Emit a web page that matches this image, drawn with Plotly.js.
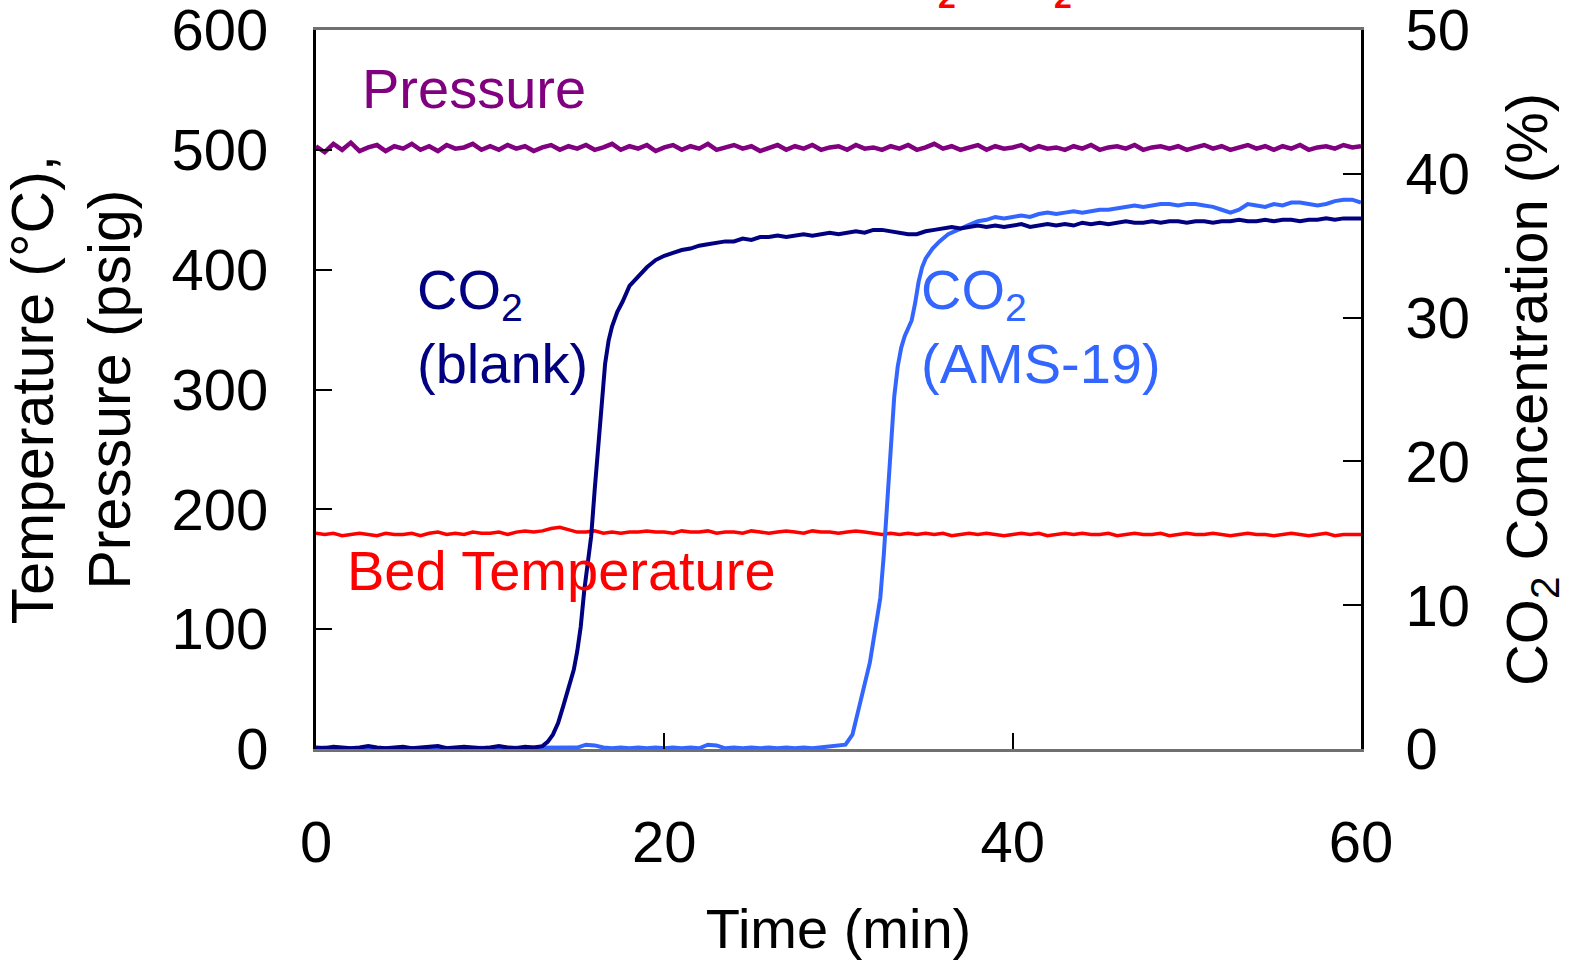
<!DOCTYPE html>
<html>
<head>
<meta charset="utf-8">
<script src="https://cdn.plot.ly/plotly-3.0.1.min.js"></script>
<style>html,body{margin:0;padding:0;background:#fff;}#chart{width:1570px;height:960px;}</style>
</head>
<body>
<div id="chart"></div>
<script>
// ---- Data ----
const timeFlat = [0,0.5,1,1.5,2,2.5,3,3.5,4,4.5,5,5.5,6,6.5,7,7.5,8,8.5,9,9.5,
  10,10.5,11,11.5,12,12.5,13,13.5,14,14.5,15,15.5,16,16.5,17,17.5,18,18.5,19,19.5,
  20,20.5,21,21.5,22,22.5,23,23.5,24,24.5,25,25.5,26,26.5,27,27.5,28,28.5,29,29.5,
  30,30.5,31,31.5,32,32.5,33,33.5,34,34.5,35,35.5,36,36.5,37,37.5,38,38.5,39,39.5,
  40,40.5,41,41.5,42,42.5,43,43.5,44,44.5,45,45.5,46,46.5,47,47.5,48,48.5,49,49.5,
  50,50.5,51,51.5,52,52.5,53,53.5,54,54.5,55,55.5,56,56.5,57,57.5,58,58.5,59,59.5,60];

const pressure = [503,498,505,500,506,499,502,504,499,503,
  501,505,500,503,499,504,501,502,505,500,
  503,500,504,501,503,499,502,504,500,503,
  501,504,500,502,505,500,503,501,504,499,
  502,504,500,503,501,505,500,502,504,501,
  503,499,502,504,500,503,501,504,500,502,
  503,500,504,501,502,500,503,501,504,500,
  502,505,501,503,500,502,504,500,503,501,
  502,504,500,503,501,502,500,503,501,504,
  500,502,503,501,504,500,502,503,501,503,
  500,502,504,501,503,500,502,504,501,503,
  500,503,501,504,500,502,503,501,504,502,503];

const bedTemp = [180,179,180,178,179,180,179,178,180,179,
  179,180,178,180,181,179,180,179,181,180,
  180,181,179,181,182,181,182,184,185,183,
  181,181,182,180,181,180,181,181,182,181,
  181,180,182,181,181,182,180,181,181,180,
  182,181,180,181,182,181,180,182,181,181,
  180,181,182,181,180,179,180,179,180,179,
  180,179,180,178,179,180,179,180,179,178,
  179,180,179,180,178,179,180,179,180,179,
  179,180,178,179,180,179,179,180,178,179,
  180,179,179,180,179,178,179,180,179,179,
  178,179,180,179,178,179,180,178,179,179,179];

const timeBlank = [0,0.5,1,1.5,2,2.5,3,3.5,4,4.5,5,5.5,6,6.5,7,7.5,8,8.5,9,9.5,10,10.5,11,11.5,12,12.5,
  13,13.3,13.6,13.9,14.2,14.5,14.8,15,15.2,15.4,15.6,15.8,16,16.2,16.4,16.6,16.8,17,17.3,17.6,18,18.5,19,19.5,
  20,20.5,21,21.5,22,22.5,23,23.5,24,24.5,25,25.5,26,26.5,27,27.5,28,28.5,29,29.5,
  30,30.5,31,31.5,32,32.5,33,33.5,34,34.5,35,35.5,36,36.5,37,37.5,38,38.5,39,39.5,
  40,40.5,41,41.5,42,42.5,43,43.5,44,44.5,45,45.5,46,46.5,47,47.5,48,48.5,49,49.5,
  50,50.5,51,51.5,52,52.5,53,53.5,54,54.5,55,55.5,56,56.5,57,57.5,58,58.5,59,59.5,60];
const co2Blank = [0.1,0.05,0.15,0.1,0.05,0.1,0.2,0.1,0.05,0.1,0.15,0.05,0.1,0.1,0.2,0.05,0.1,0.15,0.1,0.05,0.1,0.2,0.1,0.05,0.15,0.1,
  0.2,0.5,1.0,1.8,3.0,4.2,5.5,6.8,8.5,11.0,13.0,14.8,18.0,21.0,24.0,26.8,28.4,29.4,30.4,31.1,32.2,32.9,33.5,34.0,
  34.3,34.5,34.7,34.8,35.0,35.1,35.2,35.3,35.3,35.5,35.4,35.6,35.6,35.7,35.6,35.7,35.8,35.7,35.8,35.9,
  35.8,35.9,36.0,35.9,36.1,36.1,36.0,35.9,35.8,35.8,36.0,36.1,36.2,36.3,36.2,36.3,36.4,36.3,36.4,36.3,
  36.4,36.5,36.3,36.4,36.5,36.4,36.5,36.4,36.6,36.5,36.6,36.5,36.6,36.7,36.6,36.6,36.7,36.6,36.7,36.7,
  36.6,36.7,36.7,36.6,36.7,36.7,36.8,36.7,36.7,36.8,36.7,36.8,36.8,36.7,36.8,36.8,36.9,36.8,36.9,36.9,36.9];

const timeAms = [0,0.5,1,1.5,2,2.5,3,3.5,4,4.5,5,5.5,6,6.5,7,7.5,8,8.5,9,9.5,
  10,10.5,11,11.5,12,12.5,13,13.5,14,14.5,15,15.5,16,16.5,17,17.5,18,18.5,19,19.5,
  20,20.5,21,21.5,22,22.5,23,23.5,24,24.5,25,25.5,26,26.5,27,27.5,28,28.5,29,29.5,30,
  30.4,30.8,31.2,31.5,31.8,32,32.2,32.4,32.6,32.8,33,33.2,33.4,33.6,33.8,34,34.2,34.4,34.6,34.8,35,35.4,35.8,36.3,36.8,37.4,
  38,38.5,39,39.5,40,40.5,41,41.5,42,42.5,43,43.5,44,44.5,45,45.5,46,46.5,47,47.5,48,48.5,49,49.5,
  50,50.5,51,51.5,52,52.5,53,53.5,54,54.5,55,55.5,56,56.5,57,57.5,58,58.5,59,59.5,60];
const co2Ams = [0.05,0.1,0.05,0.05,0.1,0.05,0.1,0.05,0.05,0.1,
  0.05,0.1,0.05,0.1,0.05,0.05,0.1,0.05,0.1,0.05,
  0.05,0.1,0.05,0.1,0.05,0.1,0.05,0.05,0.1,0.05,
  0.1,0.3,0.25,0.1,0.05,0.1,0.05,0.1,0.05,0.1,
  0.05,0.1,0.05,0.1,0.05,0.3,0.25,0.05,0.1,0.05,
  0.1,0.05,0.1,0.05,0.1,0.05,0.1,0.05,0.1,0.15,0.2,
  0.3,1.0,3.0,4.5,6.0,7.5,9.0,10.5,13.5,17.0,21.0,24.5,26.6,27.9,28.7,29.3,29.8,31.0,32.5,33.5,34.1,34.8,35.3,35.8,36.1,36.4,
  36.7,36.8,37.0,36.9,37.0,37.1,37.0,37.2,37.3,37.2,37.3,37.4,37.3,37.4,37.5,37.5,37.6,37.7,37.8,37.7,37.8,37.9,37.9,37.8,
  37.9,37.9,37.8,37.7,37.5,37.3,37.5,37.9,37.8,37.7,37.9,37.8,38.0,38.0,37.9,37.8,37.9,38.1,38.2,38.2,38.0];

const xTicks = [0,20,40,60];
const yTicks = [0,100,200,300,400,500,600];
const y2Ticks = [0,10,20,30,40,50];

// ---- Styling ----
const FONT = 'Liberation Sans, Arial, Helvetica, sans-serif';
const FS = 56;
const TICKFS = 58;

const traces = [
  {x: timeFlat, y: bedTemp, type: 'scatter', mode: 'lines', name: 'Bed Temperature',
   line: {color: '#FF0000', width: 3.5}, yaxis: 'y'},
  {x: timeFlat, y: pressure, type: 'scatter', mode: 'lines', name: 'Pressure',
   line: {color: '#800080', width: 4.5}, yaxis: 'y'},
  {x: timeAms, y: co2Ams, type: 'scatter', mode: 'lines', name: 'CO2 (AMS-19)',
   line: {color: '#3366FF', width: 4}, yaxis: 'y2'},
  {x: timeBlank, y: co2Blank, type: 'scatter', mode: 'lines', name: 'CO2 (blank)',
   line: {color: '#000080', width: 4}, yaxis: 'y2'}
];

function px2x(p){ return (p-316)/1045; }
function px2y(p){ return (749-p)/719; }

const annotations = [
  {text: 'Pressure', font: {color: '#800080', size: FS, family: FONT}, x: px2x(360), y: px2y(88), xanchor: 'left', yanchor: 'middle'},
  {text: 'Bed Temperature', font: {color: '#FF0000', size: FS, family: FONT}, x: px2x(345), y: px2y(570), xanchor: 'left', yanchor: 'middle'},
  {text: 'CO<sub>2</sub>', font: {color: '#000080', size: FS, family: FONT}, x: px2x(415), y: px2y(293), xanchor: 'left', yanchor: 'middle'},
  {text: '(blank)', font: {color: '#000080', size: FS, family: FONT}, x: px2x(415), y: px2y(363), xanchor: 'left', yanchor: 'middle'},
  {text: 'CO<sub>2</sub>', font: {color: '#3366FF', size: FS, family: FONT}, x: px2x(919), y: px2y(293), xanchor: 'left', yanchor: 'middle'},
  {text: '(AMS-19)', font: {color: '#3366FF', size: FS, family: FONT}, x: px2x(919), y: px2y(363), xanchor: 'left', yanchor: 'middle'},
  {text: '<b>2</b>', font: {color: '#FF0000', size: 32, family: FONT}, x: px2x(947), y: 1 + 13/719, xanchor: 'center', yanchor: 'bottom'},
  {text: '<b>2</b>', font: {color: '#FF0000', size: 32, family: FONT}, x: px2x(1063), y: 1 + 13/719, xanchor: 'center', yanchor: 'bottom'}
].map(a => Object.assign({xref: 'paper', yref: 'paper', showarrow: false}, a));

const layout = {
  width: 1570, height: 960,
  margin: {l: 316, r: 209, t: 30, b: 211, pad: 0},
  paper_bgcolor: '#ffffff', plot_bgcolor: '#ffffff',
  showlegend: false,
  font: {family: FONT, size: FS, color: '#000000'},
  xaxis: {
    range: [0, 60], tickvals: xTicks, ticktext: xTicks.map(String),
    ticks: 'inside', ticklen: 16, tickwidth: 2, tickcolor: '#000000',
    showline: true, linecolor: '#707070', linewidth: 3, mirror: true,
    showgrid: false, zeroline: false, ticklabelstandoff: 40,
    ticklabeloverflow: 'allow',
    tickfont: {size: TICKFS, family: FONT},
    title: {text: 'Time (min)', font: {size: FS, family: FONT}, standoff: 40}
  },
  yaxis: {
    range: [0, 600], tickvals: yTicks, ticktext: yTicks.map(String),
    ticks: 'inside', ticklen: 16, tickwidth: 2, tickcolor: '#000000',
    showline: true, linecolor: '#000000', linewidth: 3,
    showgrid: false, zeroline: false, ticklabelstandoff: 33,
    ticklabeloverflow: 'allow',
    tickfont: {size: TICKFS, family: FONT},
    title: {text: 'Temperature (°C),<br>Pressure (psig)', font: {size: 59, family: FONT}, standoff: 33}
  },
  yaxis2: {
    range: [0, 50], tickvals: y2Ticks, ticktext: y2Ticks.map(String),
    overlaying: 'y', side: 'right',
    ticks: 'inside', ticklen: 18, tickwidth: 2, tickcolor: '#000000',
    showline: true, linecolor: '#000000', linewidth: 3,
    showgrid: false, zeroline: false, ticklabelstandoff: 30,
    ticklabeloverflow: 'allow',
    tickfont: {size: TICKFS, family: FONT},
    title: {text: 'CO<sub>2</sub> Concentration (%)', font: {size: 58, family: FONT}, standoff: 38}
  },
  annotations: annotations
};

Plotly.newPlot('chart', traces, layout, {displayModeBar: false, staticPlot: true});
</script>
</body>
</html>
